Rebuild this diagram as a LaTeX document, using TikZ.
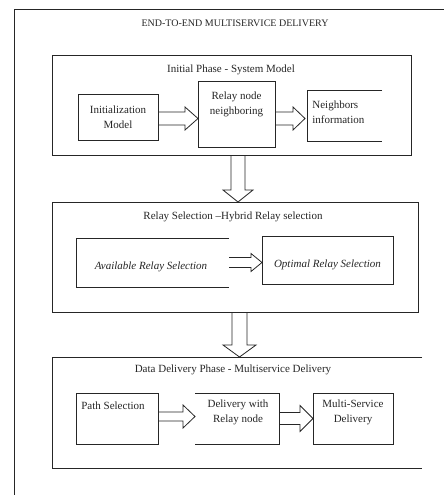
\documentclass[tikz,border=0pt]{standalone}
\usepackage{fontspec}
\setmainfont{Liberation Serif}
\usetikzlibrary{calc}
\newcommand\harrow[5]{% start, tip, half width, flare, head length
  \draw[arw] ($(#1)+(0,-#3)$) -- ($(#2)+(-#5,-#3)$) -- ($(#2)+(-#5,-#3-#4)$) -- (#2)
    -- ($(#2)+(-#5,#3+#4)$) -- ($(#2)+(-#5,#3)$) -- ($(#1)+(0,#3)$);}
\newcommand\varrow[5]{%
  \draw[arw] ($(#1)+(-#3,0)$) -- ($(#2)+(-#3,-#5)$) -- ($(#2)+(-#3-#4,-#5)$) -- (#2)
    -- ($(#2)+(#3+#4,-#5)$) -- ($(#2)+(#3,-#5)$) -- ($(#1)+(#3,0)$);}
\begin{document}
\begin{tikzpicture}[x=1pt,y=-1pt,
  line width=0.8pt,
  frame/.style={draw=black!85, line width=0.8pt, inner sep=0pt, outer sep=0pt},
  open/.style={inner sep=0pt, outer sep=0pt},
  side/.style={draw=black!85, line width=0.8pt},
  arw/.style={draw=black!85, line width=0.8pt, line join=miter},
  txt/.style={font=\fontsize{11}{15}\selectfont, align=center, inner sep=0pt, text=black!85},
  ttl/.style={font=\fontsize{11}{14}\selectfont, inner sep=0pt, text=black!85},
  itx/.style={font=\fontsize{11}{14}\selectfont\itshape, inner sep=0pt, text=black!85}]
\useasboundingbox (0,0) rectangle (444,495);
\fill[white] (0,0) rectangle (444,495);

% outer frame (only top and left visible)
\coordinate (ftl) at (14,9);
\coordinate (fbl) at (14,495);
\coordinate (ftr) at (444,9);
\draw[side] (fbl) -- (ftl) -- (ftr);
\node[font=\fontsize{10}{12}\selectfont, inner sep=0pt, text=black!85] (main) at (235,23) {END-TO-END MULTISERVICE DELIVERY};

% ---------- Phase 1
\node[frame, minimum width=359pt, minimum height=100pt] (p1) at (231.5,105) {};
\node[ttl] (p1t) at (231,70) {Initial Phase - System Model};
\node[frame, minimum width=80pt, minimum height=46pt] (init) at (118,117) {};
\node[txt] (initt) at (118,117.5) {Initialization\\Model};
\node[frame, minimum width=77pt, minimum height=66pt] (relay) at (236.5,114) {};
\node[txt] (relayt) at (236.5,104.5) {Relay node\\neighboring};
\node[open, minimum width=75pt, minimum height=51pt] (neigh) at (344.5,115.5) {};
\draw[side] (neigh.north east) -- (neigh.north west) -- (neigh.south west) -- (neigh.south east);
\node[txt, align=left, anchor=west] (neight) at (312,112.5) {Neighbors\\information};

\coordinate (a1s) at ($(init.east)+(0,1.5)$);
\coordinate (a1t) at (relay.west |- a1s);
\harrow{a1s}{a1t}{6.5}{5}{13}
\coordinate (a2s) at (relay.east |- a1s);
\coordinate (a2t) at ($(neigh.west |- a1s)+(-2,0)$);
\harrow{a2s}{a2t}{6.5}{5}{12}

% ---------- Phase 2
\node[frame, minimum width=366pt, minimum height=110pt] (p2) at (235,257) {};
\node[ttl] (p2t) at (233,217) {Relay Selection \textendash Hybrid Relay selection};
\node[open, minimum width=153pt, minimum height=49pt] (avail) at (152.5,262.5) {};
\draw[side] (avail.north east) -- (avail.north west) -- (avail.south west) -- (avail.south east);
\node[itx] (availt) at (151,267) {Available Relay Selection};
\node[frame, minimum width=131pt, minimum height=48pt] (optim) at (327.5,260) {};
\node[itx] (optimt) at (327.5,265) {Optimal Relay Selection};

\coordinate (a3s) at (avail.east);
\coordinate (a3t) at (optim.west |- a3s);
\harrow{a3s}{a3t}{5}{4}{11}

\coordinate (vas) at ($(p1.south)+(6.5,0)$);
\coordinate (vat) at (vas |- p2.north);
\varrow{vas}{vat}{7}{8}{12}

% ---------- Phase 3
\node[open, minimum width=370pt, minimum height=111pt] (p3) at (237,412.5) {};
\draw[side] (p3.north east) -- (p3.north west) -- (p3.south west) -- (p3.south east);
\node[ttl] (p3t) at (233,370) {Data Delivery Phase - Multiservice Delivery};
\node[frame, minimum width=82pt, minimum height=51pt] (path) at (117,418.5) {};
\node[txt] (patht) at (113,406) {Path Selection};
\node[open, minimum width=84pt, minimum height=51pt] (deliv) at (237,418.5) {};
\draw[side] (deliv.north west) -- (deliv.north east) -- (deliv.south east) -- (deliv.south west);
\node[txt] (delivt) at (238,412) {Delivery with\\Relay node};
\node[frame, minimum width=80pt, minimum height=51pt] (multi) at (353,418.5) {};
\node[txt] (multit) at (353,412) {Multi-Service\\Delivery};

\coordinate (a4s) at ($(path.east)+(0,-2)$);
\coordinate (a4t) at (deliv.west |- a4s);
\harrow{a4s}{a4t}{4.5}{7}{12}
\coordinate (a5s) at (deliv.east);
\coordinate (a5t) at (multi.west |- a5s);
\harrow{a5s}{a5t}{6}{7}{13}

\coordinate (vbs) at ($(p2.south)+(4.5,0)$);
\coordinate (vbt) at (vbs |- p3.north);
\varrow{vbs}{vbt}{7.5}{9}{12}
\end{tikzpicture}
\end{document}
